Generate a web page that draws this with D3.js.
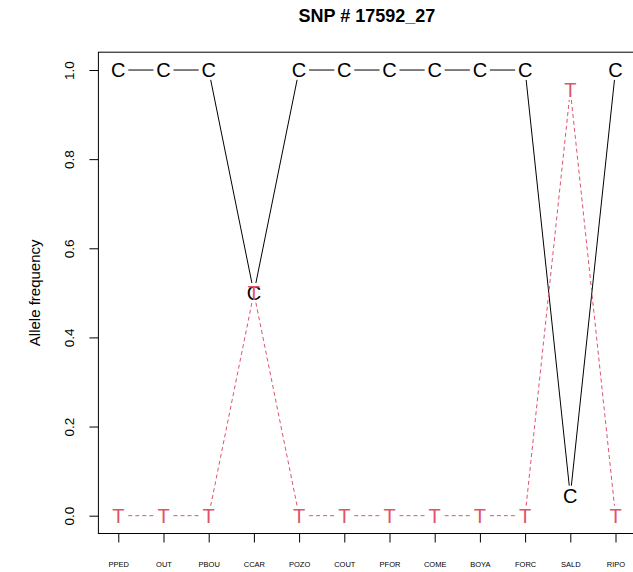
<!DOCTYPE html>
<html>
<head>
<meta charset="utf-8">
<script src="https://cdn.jsdelivr.net/npm/d3@7"></script>
<style>
  body { margin: 0; background: #fff; }
  svg { font-family: "Liberation Sans", Arial, sans-serif; }
</style>
</head>
<body>
<svg width="633" height="572"></svg>
<script>
const title = 'SNP # 17592_27';
const pops = ['PPED', 'OUT', 'PBOU', 'CCAR', 'POZO', 'COUT', 'PFOR', 'COME', 'BOYA', 'FORC', 'SALD', 'RIPO'];
const freqC = [1, 1, 1, 0.5, 1, 1, 1, 1, 1, 1, 0.045, 1];
const freqT = [0, 0, 0, 0.5, 0, 0, 0, 0, 0, 0, 0.955, 0];
const yTicks = [0, 0.2, 0.4, 0.6, 0.8, 1.0];

const series = [
  {allele: 'C', values: freqC, color: '#000000', dash: null},
  {allele: 'T', values: freqT, color: '#DF536B', dash: '4,3'}
];

const svg = d3.select('svg');
const plotL = 98.4, plotR = 635.4, plotT = 52.2, plotB = 533.5;

// R style: 4% padding on both axes
const x = d3.scaleLinear()
  .domain([0.56, pops.length + 0.44])
  .range([plotL, plotR]);

const y = d3.scaleLinear()
  .domain([-0.04, 1.04])
  .range([plotB, plotT]);

// title
svg.append('text')
  .attr('x', (plotL + plotR) / 2)
  .attr('y', 22)
  .attr('text-anchor', 'middle')
  .attr('font-weight', 'bold')
  .attr('font-size', 18)
  .text(title);

// y axis
const yAxis = svg.append('g')
  .attr('transform', `translate(${plotL},0)`)
  .call(d3.axisLeft(y).tickValues(yTicks).tickSize(9).tickPadding(0).tickFormat(d3.format('.1f')));
yAxis.attr('font-family', null);
yAxis.select('.domain').remove();
yAxis.selectAll('.tick line').attr('stroke', '#000');
yAxis.selectAll('.tick text')
  .attr('font-size', 13.5)
  .attr('fill', '#000')
  .attr('text-anchor', 'middle')
  .attr('dy', null)
  .attr('x', null)
  .attr('transform', `translate(-24,0) rotate(-90)`);

svg.append('text')
  .attr('transform', `translate(39.5,${(plotT + plotB) / 2}) rotate(-90)`)
  .attr('text-anchor', 'middle')
  .attr('font-size', 15)
  .text('Allele frequency');

// x axis
const xAxis = svg.append('g')
  .attr('transform', `translate(0,${plotB})`)
  .call(d3.axisBottom(x).tickValues(d3.range(1, pops.length + 1)).tickSize(9).tickPadding(0)
    .tickFormat(i => pops[i - 1]));
xAxis.attr('font-family', null);
xAxis.select('.domain').remove();
xAxis.selectAll('.tick line').attr('stroke', '#000');
xAxis.selectAll('.tick text')
  .attr('font-size', 7.5)
  .attr('fill', '#000')
  .attr('dy', null)
  .attr('y', 33.5);

// box
svg.append('rect')
  .attr('x', plotL)
  .attr('y', plotT)
  .attr('width', plotR - plotL)
  .attr('height', plotB - plotT)
  .attr('fill', 'none')
  .attr('stroke', '#000')
  .attr('stroke-width', 1);

// type = "b": lines with a gap around each point
const gap = 10;
series.forEach(s => {
  const pts = s.values.map((v, i) => [x(i + 1), y(v)]);
  const segs = d3.pairs(pts).map(([a, b]) => {
    const dx = b[0] - a[0], dy = b[1] - a[1];
    const len = Math.hypot(dx, dy);
    const ux = dx / len, uy = dy / len;
    return [a[0] + ux * gap, a[1] + uy * gap, b[0] - ux * gap, b[1] - uy * gap];
  });
  const g = svg.append('g');
  g.selectAll('line')
    .data(segs)
    .enter().append('line')
      .attr('x1', d => d[0])
      .attr('y1', d => d[1])
      .attr('x2', d => d[2])
      .attr('y2', d => d[3])
      .attr('stroke', s.color)
      .attr('stroke-width', 1)
      .attr('stroke-dasharray', s.dash);
  g.selectAll('text')
    .data(s.values)
    .enter().append('text')
      .attr('x', (d, i) => x(i + 1))
      .attr('y', d => y(d) + 7.2)
      .attr('text-anchor', 'middle')
      .attr('font-size', 20)
      .attr('fill', s.color)
      .text(s.allele);
});
</script>
</body>
</html>
